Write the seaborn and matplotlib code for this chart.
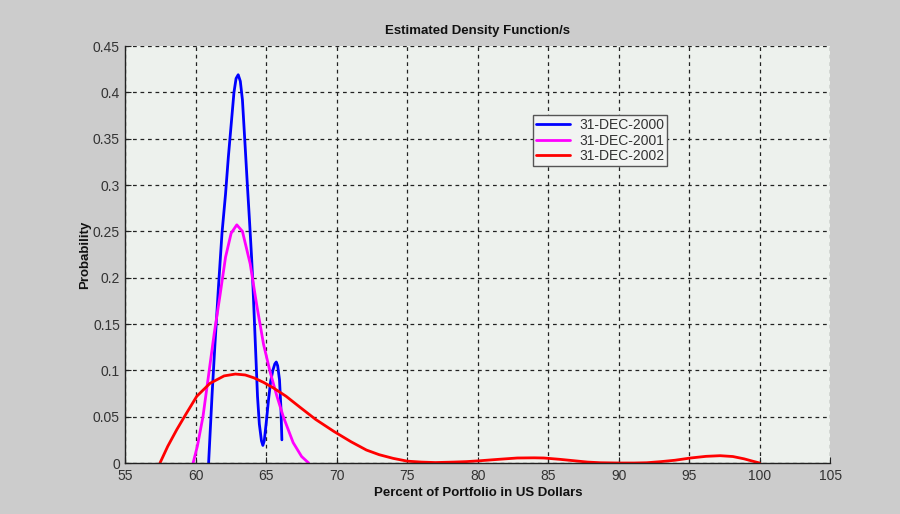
import matplotlib
matplotlib.use("Agg")
import matplotlib.pyplot as plt
import seaborn as sns
import pandas as pd

# Estimated density curves (percent in USD, probability) for each date
x_2000 = [60.9, 61.0, 61.15, 61.35, 61.6, 61.85, 62.1, 62.3, 62.5, 62.7, 62.85, 63.0,
          63.15, 63.3, 63.5, 63.65, 63.8, 63.95, 64.05, 64.2, 64.37, 64.5, 64.65, 64.75,
          64.85, 65.0, 65.15, 65.3, 65.46, 65.6, 65.7, 65.8, 65.93, 66.03, 66.1]
y_2000 = [0.0, 0.03, 0.075, 0.128, 0.19, 0.248, 0.29, 0.33, 0.365, 0.40, 0.415, 0.419,
          0.412, 0.392, 0.34, 0.30, 0.262, 0.222, 0.19, 0.135, 0.072, 0.042, 0.024, 0.019,
          0.024, 0.045, 0.068, 0.088, 0.100, 0.107, 0.109, 0.105, 0.09, 0.06, 0.025]

x_2001 = [59.8, 60.1, 60.5, 60.9, 61.3, 61.7, 62.1, 62.5, 62.9, 63.3, 63.85, 64.32,
          64.8, 65.27, 65.75, 66.2, 66.9, 67.5, 68.0]
y_2001 = [0.0, 0.018, 0.05, 0.095, 0.14, 0.18, 0.222, 0.248, 0.257, 0.25, 0.215, 0.17,
          0.128, 0.098, 0.072, 0.05, 0.022, 0.007, 0.0]

x_2002 = [57.45, 58.0, 58.64, 59.3, 60.06, 61.0, 62.0, 62.8, 63.5, 64.1, 64.8, 65.5,
          66.4, 67.4, 68.5, 69.8, 71.0, 72.1, 73.0, 74.0, 75.0, 76.0, 77.0, 78.3, 79.2,
          80.2, 81.5, 82.8, 84.0, 84.7, 85.8, 86.8, 87.8, 88.7, 90.0, 91.1, 92.0, 93.0,
          94.0, 95.1, 96.2, 97.2, 98.1, 98.9, 99.5, 100.0]
y_2002 = [0.0, 0.018, 0.036, 0.053, 0.072, 0.086, 0.094, 0.096, 0.095, 0.092, 0.087, 0.081,
          0.072, 0.060, 0.047, 0.034, 0.023, 0.014, 0.009, 0.005, 0.002, 0.001, 0.0005,
          0.001, 0.0015, 0.0025, 0.004, 0.0054, 0.0056, 0.0054, 0.004, 0.0025, 0.001,
          0.0003, 0.0, 0.0, 0.0003, 0.0015, 0.003, 0.0054, 0.0072, 0.0079, 0.007, 0.0045,
          0.002, 0.0]

dates = ["31-DEC-2000", "31-DEC-2001", "31-DEC-2002"]
colors = ["#0000ff", "#ff00ff", "#ff0000"]

x_ticks = [55, 60, 65, 70, 75, 80, 85, 90, 95, 100, 105]
y_ticks = [0, 0.05, 0.1, 0.15, 0.2, 0.25, 0.3, 0.35, 0.4, 0.45]
y_tick_labels = ["0", "0.05", "0.1", "0.15", "0.2", "0.25", "0.3", "0.35", "0.4", "0.45"]

frames = []
for d, xs, ys in zip(dates, [x_2000, x_2001, x_2002], [y_2000, y_2001, y_2002]):
    frames.append(pd.DataFrame({"pct": xs, "prob": ys, "date": d}))
df = pd.concat(frames, ignore_index=True)

sns.set_theme(style="ticks")
plt.rcParams["font.family"] = ["Liberation Sans", "DejaVu Sans"]

fig = plt.figure(figsize=(9.0, 5.14), dpi=100, facecolor="#cccccc")
ax = fig.add_axes([0.1394, 0.0992, 0.7829, 0.8113])
ax.set_facecolor("#edf1ed")

sns.lineplot(data=df, x="pct", y="prob", hue="date", hue_order=dates,
             palette=dict(zip(dates, colors)), estimator=None, sort=False,
             linewidth=2.0, ax=ax)

ax.set_xlim(55, 105)
ax.set_ylim(0, 0.45)
ax.set_xticks(x_ticks)
ax.set_xticklabels([str(t) for t in x_ticks])
ax.set_yticks(y_ticks)
ax.set_yticklabels(y_tick_labels)
ax.tick_params(direction="in", length=4, width=0.8, colors="#222222",
               labelsize=10, labelcolor="#333333", pad=4)
ax.grid(True, color="#222222", linestyle=(0, (3, 3)), linewidth=0.9)

for side in ["top", "right"]:
    ax.spines[side].set_visible(False)
for side in ["left", "bottom"]:
    ax.spines[side].set_color("#222222")
    ax.spines[side].set_linewidth(1.0)

ax.set_title("Estimated Density Function/s", fontsize=9.5, fontweight="bold",
             color="#111111", pad=9)
ax.set_xlabel("Percent of Portfolio in US Dollars", fontsize=9.5, fontweight="bold",
              color="#111111", labelpad=3)
ax.set_ylabel("Probability", fontsize=9.5, fontweight="bold", color="#111111",
              labelpad=1)

leg = ax.legend(loc="upper left", bbox_to_anchor=(0.579, 0.834), fontsize=10,
                frameon=True, fancybox=False, handlelength=2.4, handletextpad=0.7,
                borderpad=0.2, labelspacing=0.12, borderaxespad=0, title=None)
leg.get_frame().set_facecolor("#f2f4f2")
leg.get_frame().set_edgecolor("#555555")
leg.get_frame().set_linewidth(1.0)
leg.get_frame().set_alpha(1.0)
for t in leg.get_texts():
    t.set_color("#333333")

fig.savefig("out.png", dpi=100, facecolor=fig.get_facecolor())
